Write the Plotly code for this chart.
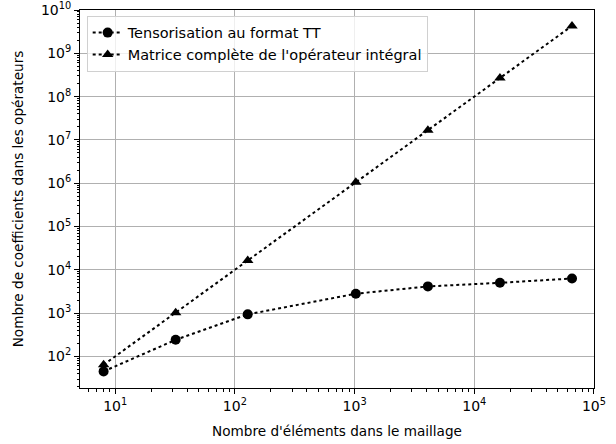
import plotly.graph_objects as go
import numpy as np

n_elements = [8, 32, 128, 1024, 4096, 16384, 65536]
tt_coeffs = [45, 241, 935, 2800, 4130, 5000, 6300]
full_coeffs = [64, 1024, 16384, 1048576, 16777216, 268435456, 4294967296]

labels = ["Tensorisation au format TT", "Matrice complète de l'opérateur intégral"]
xlabel = "Nombre d'éléments dans le maillage"
ylabel = "Nombre de coefficients dans les opérateurs"

font = dict(family="DejaVu Sans", size=13.6, color="black")
legend_font = dict(family="DejaVu Sans", size=14.5, color="black")

fig = go.Figure()
fig.add_trace(go.Scatter(x=n_elements, y=tt_coeffs, name=labels[0], mode="lines+markers",
                         line=dict(color="black", dash="dot", width=2),
                         marker=dict(symbol="circle", size=10, color="black")))
fig.add_trace(go.Scatter(x=n_elements, y=full_coeffs, name=labels[1], mode="lines+markers",
                         line=dict(color="black", dash="dot", width=2),
                         marker=dict(symbol="triangle-up", size=10, color="black")))

xt = [10**k for k in range(1, 6)]
yt = [10**k for k in range(2, 11)]
x_minor = [m * 10**k for k in range(0, 5) for m in range(2, 10)]
y_minor = [m * 10**k for k in range(1, 10) for m in range(2, 10)]

def axis_common(minor_vals):
    return dict(type="log", showline=True, linecolor="black", linewidth=1, mirror=True,
                ticks="outside", ticklen=5, tickcolor="black", automargin=False,
                ticklabeloverflow="allow",
                tickfont=dict(family="DejaVu Sans", size=14, color="black"),
                showgrid=True, gridcolor="#b0b0b0", gridwidth=1, zeroline=False,
                minor=dict(tickmode="array", tickvals=minor_vals, ticks="outside",
                           ticklen=2.5, tickcolor="black", showgrid=False))

fig.update_xaxes(range=[np.log10(5.08), 5.0002], tickvals=xt,
                 ticktext=[f"10<sup>{k}</sup>" for k in range(1, 6)],
                 title=dict(text=xlabel, standoff=13, font=dict(size=13.6)),
                 **axis_common(x_minor))
fig.update_yaxes(range=[np.log10(18.6), 10.0002], tickvals=yt,
                 ticktext=[f"10<sup>{k}</sup>" for k in range(2, 11)],
                 title=dict(text=ylabel, standoff=14, font=dict(size=13.6)),
                 **axis_common(y_minor))

fig.update_layout(width=616, height=444, margin=dict(l=80, r=22, t=10, b=56),
                  paper_bgcolor="white", plot_bgcolor="white", font=font,
                  legend=dict(x=0.013, y=0.985, xanchor="left", yanchor="top",
                              bgcolor="rgba(255,255,255,0.8)", bordercolor="#d0d0d0",
                              borderwidth=1, font=legend_font, tracegroupgap=0),
                  showlegend=True)

fig.write_html("out.html", config={"displayModeBar": False},
               post_script="document.body.style.margin='0';")
